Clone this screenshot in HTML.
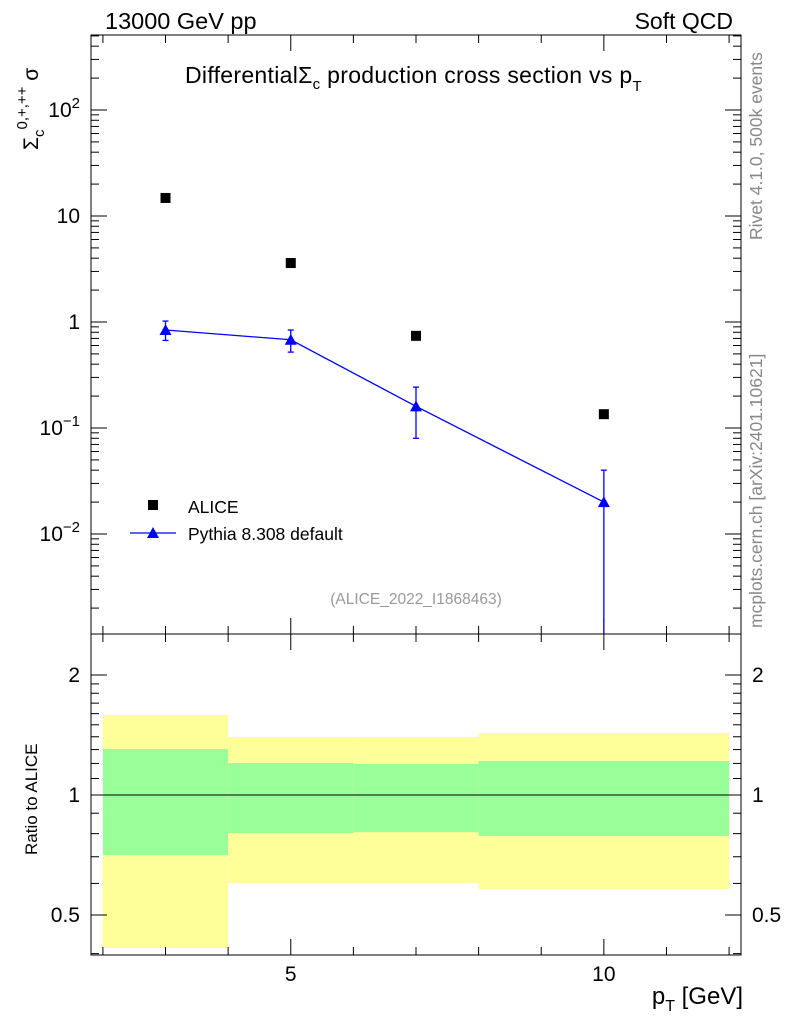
<!DOCTYPE html>
<html><head><meta charset="utf-8">
<style>
body{margin:0;background:#fff;}
svg{display:block;font-family:"Liberation Sans",sans-serif;}
</style></head>
<body>
<svg id="c" width="786" height="1024" viewBox="0 0 786 1024" xmlns="http://www.w3.org/2000/svg">
<text x="105" y="29" font-size="23.5">13000 GeV pp</text>
<text x="733" y="29" font-size="23" text-anchor="end">Soft QCD</text>
<text x="185" y="83" font-size="23" letter-spacing="0.3">DifferentialΣ<tspan font-size="15" dy="6">c</tspan><tspan dy="-6"> production cross section vs p</tspan><tspan font-size="15" dy="8">T</tspan></text>
<text transform="translate(38,150) rotate(-90)" font-size="21">Σ<tspan font-size="15" dy="6">c</tspan><tspan font-size="15" dy="-17">0,+,++</tspan><tspan dy="11"> σ</tspan></text>
<text transform="translate(37,855) rotate(-90)" font-size="17">Ratio to ALICE</text>
<text x="743" y="1004" font-size="24" text-anchor="end">p<tspan font-size="16" dy="7">T</tspan><tspan dy="-7"> [GeV]</tspan></text>
<text transform="translate(762,240) rotate(-90)" font-size="17.5" fill="#888">Rivet 4.1.0,  500k events</text>
<text transform="translate(762,628) rotate(-90)" font-size="17.5" fill="#888">mcplots.cern.ch [arXiv:2401.10621]</text>
<text x="416" y="604" font-size="15.5" fill="#999" text-anchor="middle">(ALICE_2022_I1868463)</text>
<g id="g"></g>
</svg>
<script>
const xCats=[3,5,7,10];
const aliceVals=[14.8,3.6,0.74,0.135];
const pyVals=[0.84,0.68,0.16,0.02];
const pyHi=[1.02,0.84,0.243,0.04];
const pyLo=[0.67,0.52,0.08,0.0001];
const binEdges=[2,4,6,8,12];
const yelHi=[1.588,1.398,1.398,1.431];
const yelLo=[0.413,0.601,0.601,0.581];
const grnHi=[1.304,1.203,1.196,1.217];
const grnLo=[0.707,0.803,0.807,0.789];
const xTicks=[5,10];
const mainTicks=[100,10,1,0.1,0.01];
const mainTickLabels=["10^2","10","1","10^-1","10^-2"];
const ratioTicks=[0.5,1,2];
const ratioTickLabels=["0.5","1","2"];

const L=91,R=741,T=35,M=634,B=955;
const X=v=>L+(v-1.81)/(12.19-1.81)*(R-L);
const Y=v=>110-(Math.log10(v)-2)*106;
const YR=v=>795-Math.log10(v)*398.6;
const g=document.getElementById('g');
const NS="http://www.w3.org/2000/svg";
function el(t,a,p){const e=document.createElementNS(NS,t);for(const k in a)e.setAttribute(k,a[k]);(p||g).appendChild(e);return e;}

for(let i=0;i<binEdges.length-1;i++){
 const x0=X(binEdges[i]),x1=X(binEdges[i+1]);
 const y=el('rect',{x:x0,y:YR(yelHi[i]),width:x1-x0,height:YR(yelLo[i])-YR(yelHi[i]),fill:'#ffff99'});
 
 
 const gr=el('rect',{x:x0,y:YR(grnHi[i]),width:x1-x0,height:YR(grnLo[i])-YR(grnHi[i]),fill:'#99ff99'});
 
 
}
el('line',{x1:L,x2:R,y1:YR(1),y2:YR(1),stroke:'#000','stroke-width':1});

el('rect',{x:L,y:T,width:R-L,height:M-T,fill:'none',stroke:'#000','stroke-width':1});
el('rect',{x:L,y:M,width:R-L,height:B-M,fill:'none',stroke:'#000','stroke-width':1});

for(let v=2;v<=12;v++){
 const big=xTicks.includes(v),len=big?16:8,x=X(v);
 for(const[a,b] of [[T,M],[M,B]]){
  el('line',{x1:x,x2:x,y1:b,y2:b-len,stroke:'#000'});
  el('line',{x1:x,x2:x,y1:a,y2:a+len,stroke:'#000'});
 }
}
xTicks.forEach(v=>{const t=el('text',{x:X(v),y:981,'font-size':21,'text-anchor':'middle'});t.textContent=v;
 
 });

for(let e=-3;e<=2;e++)for(let m=1;m<10;m++){
 const v=m*Math.pow(10,e),y=Y(v);if(y<T||y>M)continue;
 const len=m==1?16:8;
 el('line',{x1:L,x2:L+len,y1:y,y2:y,stroke:'#000'});
 el('line',{x1:R,x2:R-len,y1:y,y2:y,stroke:'#000'});
}
mainTicks.forEach((v,i)=>{
 const s=mainTickLabels[i];const t=el('text',{x:80,y:Y(v)+7,'font-size':21,'text-anchor':'end'});
 
 
 if(s.includes('^')){const[b,ex]=s.split('^');t.textContent=b;const ts=el('tspan',{'font-size':15,dy:-9},t);ts.textContent=ex.replace('-','−');}
 else t.textContent=s;
});
for(let v=0.4;v<=2.5;v+=(v<2-1e-9?0.1:0.5)){
 const y=YR(v);if(y<M||y>B)continue;
 const big=ratioTicks.some(r=>Math.abs(r-v)<1e-6),len=big?16:8;
 el('line',{x1:L,x2:L+len,y1:y,y2:y,stroke:'#000'});
 el('line',{x1:R,x2:R-len,y1:y,y2:y,stroke:'#000'});
}
ratioTicks.forEach((v,i)=>{
 for(const [x,a] of [[80,'end'],[752,'start']]){
 const t=el('text',{x:x,y:YR(v)+7,'font-size':21,'text-anchor':a});t.textContent=ratioTickLabels[i];
 
 }
});

const cl=el('clipPath',{id:'cp'});el('rect',{x:L,y:T,width:R-L,height:M-T},cl);
const pg=el('g',{'clip-path':'url(#cp)'});
const pl=el('polyline',{points:xCats.map((x,i)=>X(x)+','+Y(pyVals[i])).join(' '),fill:'none',stroke:'#0000ff','stroke-width':1.3},pg);


xCats.forEach((x,i)=>{
 const cx=X(x);
 el('line',{x1:cx,x2:cx,y1:Y(pyHi[i]),y2:Math.min(Y(pyLo[i]),M),stroke:'#0000ff','stroke-width':1.3},pg);
 el('line',{x1:cx-3,x2:cx+3,y1:Y(pyHi[i]),y2:Y(pyHi[i]),stroke:'#0000ff','stroke-width':1.3},pg);
 if(Y(pyLo[i])<M)el('line',{x1:cx-3,x2:cx+3,y1:Y(pyLo[i]),y2:Y(pyLo[i]),stroke:'#0000ff','stroke-width':1.3},pg);
 const cy=Y(pyVals[i]);
 const p=el('polygon',{points:`${cx},${cy-6} ${cx-6},${cy+5} ${cx+6},${cy+5}`,fill:'#0000ff'},pg);
 
 
 const a=el('rect',{x:cx-5,y:Y(aliceVals[i])-5,width:10,height:10,fill:'#000'});
 
 
});

const lg=el('g',{});


el('rect',{x:148,y:500,width:10,height:10,fill:'#000'},lg);
let t=el('text',{x:188,y:513,'font-size':17.5},lg);t.textContent='ALICE';
el('line',{x1:130,x2:176,y1:533,y2:533,stroke:'#0000ff','stroke-width':1.3},lg);
el('polygon',{points:'153,527 147,538 159,538',fill:'#0000ff'},lg);
t=el('text',{x:188,y:540,'font-size':17.5},lg);t.textContent='Pythia 8.308 default';
</script>
</body></html>
